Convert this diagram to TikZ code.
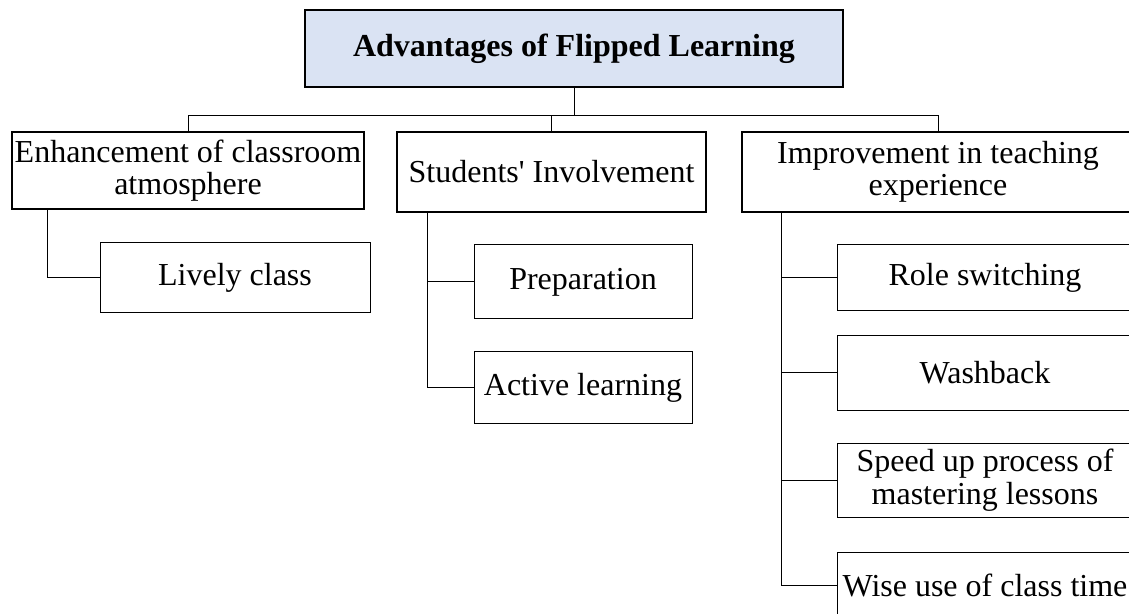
\documentclass[tikz,border=0pt]{standalone}
\usepackage{fontspec}
\setmainfont{Liberation Serif}
\usepackage{tikz}
\usetikzlibrary{positioning, calc}
\usepackage{xcolor}
\definecolor{headblue}{HTML}{DAE3F3}

\begin{document}
\begin{tikzpicture}[
    x=0.5pt, y=-0.5pt,
    every node/.style={font=\fontsize{16}{16.2}\selectfont, inner sep=0pt, align=center},
    heading/.style={rectangle, draw, line width=0.75pt, fill=headblue, font=\fontsize{16}{16.2}\selectfont\bfseries},
    branch/.style={rectangle, draw, line width=0.75pt},
    leaf/.style={rectangle, draw, line width=0.5pt},
    link/.style={draw, line width=0.5pt}
]
    \useasboundingbox (0,0) rectangle (1129,614);
    \clip (0,0) rectangle (1129,614);

    % Root
    \node[heading, minimum width=269pt, minimum height=38.5pt] (root) at (574,48.5) {Advantages of Flipped Learning};

    % Main branches
    \node[branch, minimum width=176pt, minimum height=38.5pt] (atmos) at (188,170.5) {Enhancement of classroom\\atmosphere};
    \node[branch, minimum width=154.5pt, minimum height=40pt] (involve) at (551.5,172) {Students\textquotesingle{} Involvement};
    \node[branch, minimum width=196pt, minimum height=40pt] (teach) at (938,172) {Improvement in teaching\\experience};

    % Leaves
    \node[leaf, minimum width=135pt, minimum height=35pt] (lively) at (235,278) {Lively class};
    \node[leaf, minimum width=109pt, minimum height=37pt] (prep) at (583,282) {Preparation};
    \node[leaf, minimum width=109pt, minimum height=35.5pt] (active) at (583,387.5) {Active learning};
    \node[leaf, minimum width=148pt, minimum height=33pt] (role) at (985,278) {Role switching};
    \node[leaf, minimum width=148pt, minimum height=37pt] (wash) at (985,373) {Washback};
    \node[leaf, minimum width=148pt, minimum height=37pt] (speed) at (985,480) {Speed up process of\\mastering lessons};
    \node[leaf, minimum width=148pt, minimum height=33pt] (wise) at (985,585) {Wise use of class time};

    % Root to branches
    \draw[link] (root.south) -- ++(0,28) coordinate (bus);
    \draw[link] (atmos.north) |- (bus) -| (teach.north);
    \draw[link] (involve.north) -- (involve.north |- bus);

    % Branches to leaves
    \draw[link] (atmos.south west) ++(36,0) |- (lively.west);
    \draw[link] (involve.south west) ++(31,0) |- (active.west);
    \draw[link] (involve.south west) ++(31,0) |- (prep.west);
    \draw[link] (teach.south west) ++(40,0) |- (wise.west);
    \foreach \leaf in {role, wash, speed}
        \draw[link] (teach.south west) ++(40,0) |- (\leaf.west);
\end{tikzpicture}
\end{document}
